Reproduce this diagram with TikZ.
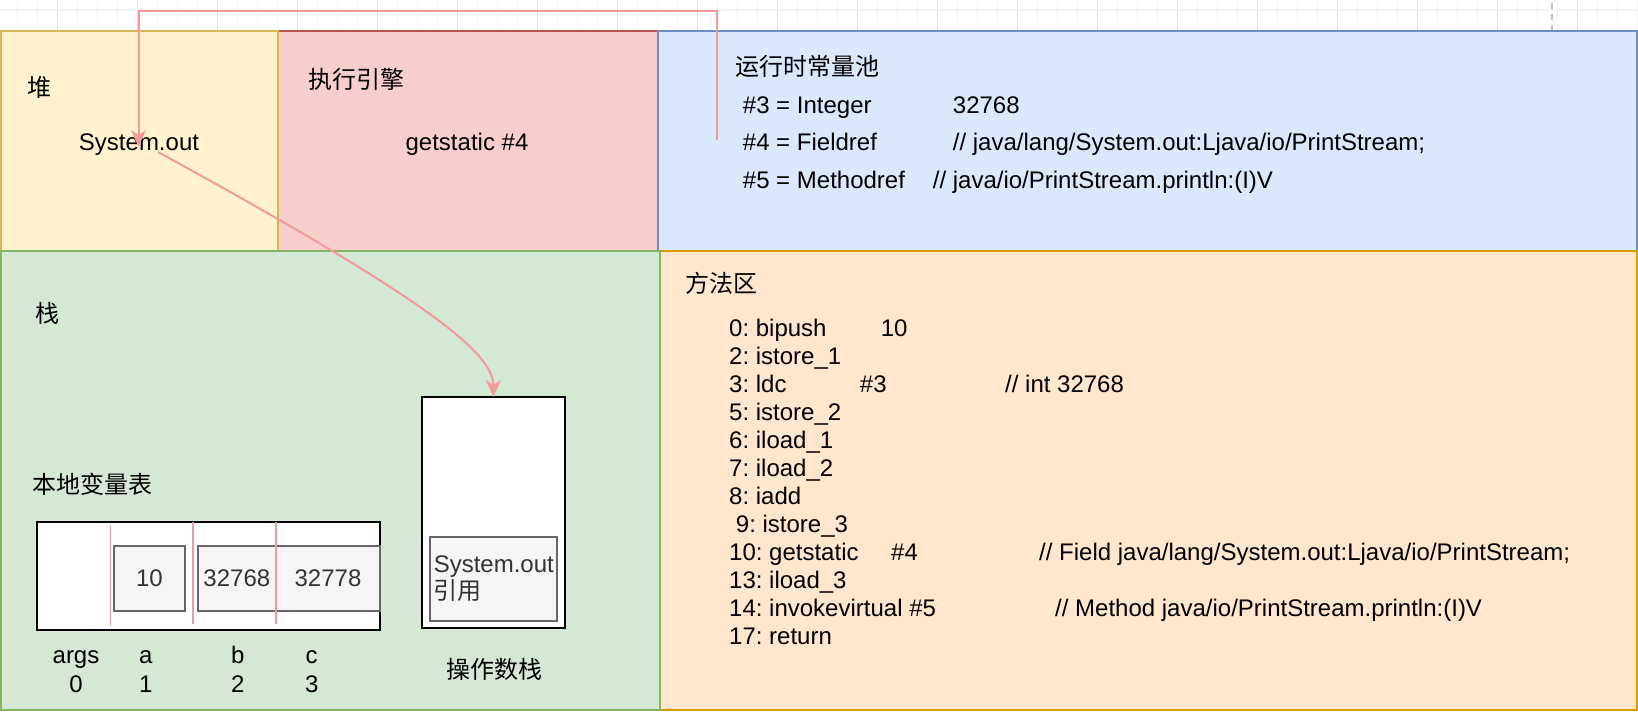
\documentclass[tikz,border=0pt]{standalone}
\usepackage{fontspec}
\setmainfont{Liberation Sans}
\newfontfamily\cjk{Noto Sans CJK SC}
\usetikzlibrary{arrows.meta, positioning}
\frenchspacing
\definecolor{heapfill}{HTML}{FFF2CC}
\definecolor{heapline}{HTML}{D6B656}
\definecolor{engfill}{HTML}{F8CECC}
\definecolor{engline}{HTML}{B85450}
\definecolor{poolfill}{HTML}{DAE8FC}
\definecolor{poolline}{HTML}{6C8EBF}
\definecolor{stackfill}{HTML}{D5E8D4}
\definecolor{stackline}{HTML}{82B366}
\definecolor{methfill}{HTML}{FFE6CC}
\definecolor{methline}{HTML}{D79B00}
\definecolor{cellfill}{HTML}{F5F5F5}
\definecolor{cellline}{HTML}{666666}
\definecolor{celltext}{HTML}{333333}
\definecolor{linkpink}{HTML}{F19C99}
\definecolor{gridminor}{HTML}{F2F2F2}
\definecolor{gridmajor}{HTML}{E0E0E0}
\definecolor{pagebreak}{HTML}{C0C0C0}
\tikzstyle{txt} = [inner sep=0pt, anchor=base west, font=\fontsize{24}{28}\selectfont]
\tikzstyle{region} = [line width=2pt]
\tikzstyle{cell} = [draw=cellline, fill=cellfill, text=celltext, line width=2pt, outer sep=0pt, minimum height=65pt, font=\fontsize{24}{27}\selectfont]
\tikzstyle{frame} = [draw=black, fill=white, outer sep=0pt]
\tikzstyle{sep} = [draw=linkpink, line width=1.5pt]
\tikzstyle{link} = [draw=linkpink, line width=2pt, -{Stealth[length=17pt,width=15pt,inset=5pt]}]

\begin{document}
\begin{tikzpicture}[x=1pt, y=-1pt]
		\useasboundingbox (0,0) rectangle (1638,712);
		% canvas grid
		\fill[white] (0,0) rectangle (1638,712);
		\foreach \gx in {17.3,37.3,...,1637.3} \draw[gridminor, line width=1.5pt] (\gx,0) -- (\gx,31);
		\foreach \gx in {57.3,137.3,...,1617.3} \draw[gridmajor, line width=1.5pt] (\gx,0) -- (\gx,31);
		\draw[gridminor, line width=1.5pt] (0,10) -- (1638,10);
		\draw[pagebreak, line width=2pt, dash pattern=on 6pt off 5pt] (1552,3) -- (1552,31);

		% regions
		\draw[region, fill=engfill, draw=engline] (278,31) rectangle (658,251);
		\draw[region, fill=heapfill, draw=heapline] (1,31) rectangle (278,251);
		\draw[region, fill=poolfill, draw=poolline] (658,31) rectangle (1637,251);
		\draw[region, fill=methfill, draw=methline] (660,251) rectangle (1637,710);
		\draw[region, fill=stackfill, draw=stackline] (1,251) rectangle (660,710);

		% heap and engine
		\node[txt] (heap) at (27,96) {\cjk 堆};
		\node[txt, anchor=base] (obj) at (139,150) {System.out};
		\node[txt] (engine) at (308,88) {\cjk 执行引擎};
		\node[txt, anchor=base] (getst) at (467,150) {getstatic \#4};

		% constant pool
		\node[txt] (pool) at (735,75) {\cjk 运行时常量池};
		\node[txt] (p3) at (742.7,113.5) {\makebox[210pt][l]{\#3 = Integer}32768};
		\node[txt] (p4) at (742.7,150) {\makebox[210pt][l]{\#4 = Fieldref}// java/lang/System.out:Ljava/io/PrintStream;};
		\node[txt] (p5) at (742.7,188) {\makebox[190pt][l]{\#5 = Methodref}// java/io/PrintStream.println:(I)V};

		% stack frame
		\node[txt] (stack) at (35,322) {\cjk 栈};
		\node[txt] (locals) at (32,493) {\cjk 本地变量表};
		\node[frame, line width=2.5pt, minimum width=343pt, minimum height=108pt] (table) at (208.5,576) {};
		\node[cell, minimum width=71pt] (v1) at (149.5,578.5) {10};
		\node[cell, minimum width=78.3pt, right=12.7pt of v1] (v2) {32768};
		\node[cell, minimum width=104pt, right=0pt of v2] (v3) {32778};
		\draw[sep] (110.7,525) -- (110.7,626);
		\draw[sep] (193,522) -- (193,624);
		\draw[sep] (276,522) -- (276,624);
		\node[txt, anchor=base] (n0) at (76,663.5) {args};
		\node[txt, anchor=base] (n1) at (145.7,663.5) {a};
		\node[txt, anchor=base] (n2) at (237.7,663.5) {b};
		\node[txt, anchor=base] (n3) at (311.7,663.5) {c};
		\node[txt, anchor=base] (i0) at (76,692.5) {0};
		\node[txt, anchor=base] (i1) at (145.7,692.5) {1};
		\node[txt, anchor=base] (i2) at (237.7,692.5) {2};
		\node[txt, anchor=base] (i3) at (311.7,692.5) {3};

		\node[frame, line width=2pt, minimum width=143pt, minimum height=231pt] (opstack) at (493.5,512.5) {};
		\node[cell, minimum width=126.4pt, minimum height=84pt, align=left] (opref) at (493.8,579) {System.out\\{\cjk 引用}};
		\node[txt, anchor=base] (oplabel) at (494,678) {\cjk 操作数栈};

		% method area
		\node[txt] (meth) at (685,292) {\cjk 方法区};
		\node[txt] (c0) at (729,336.5) {\makebox[151.6pt][l]{0: bipush}10};
		\node[txt] (c2) at (729,364.5) {2: istore\_1};
		\node[txt] (c3) at (729,392.5) {\makebox[130.7pt][l]{3: ldc}\makebox[145.3pt][l]{\#3}// int 32768};
		\node[txt] (c5) at (729,420.5) {5: istore\_2};
		\node[txt] (c6) at (729,448.5) {6: iload\_1};
		\node[txt] (c7) at (729,476.5) {7: iload\_2};
		\node[txt] (c8) at (729,504.5) {8: iadd};
		\node[txt] (c9) at (735.7,532.5) {9: istore\_3};
		\node[txt] (c10) at (729,560.5) {\makebox[162pt][l]{10: getstatic}\makebox[148pt][l]{\#4}// Field java/lang/System.out:Ljava/io/PrintStream;};
		\node[txt] (c13) at (729,588.5) {13: iload\_3};
		\node[txt] (c14) at (729,616.5) {\makebox[326pt][l]{14: invokevirtual \#5}// Method java/io/PrintStream.println:(I)V};
		\node[txt] (c17) at (729,644.5) {17: return};

		% references
		\coordinate (poolref) at (717,140);
		\coordinate (bend) at (717,11);
		\coordinate (objin) at (138.5,147);
		\coordinate (objout) at (158,152);
		\draw[link] (poolref) -- (bend) -| (objin);
		\draw[link] (objout) .. controls (440,306) and (493,355) .. (opstack.north);
\end{tikzpicture}
\end{document}
